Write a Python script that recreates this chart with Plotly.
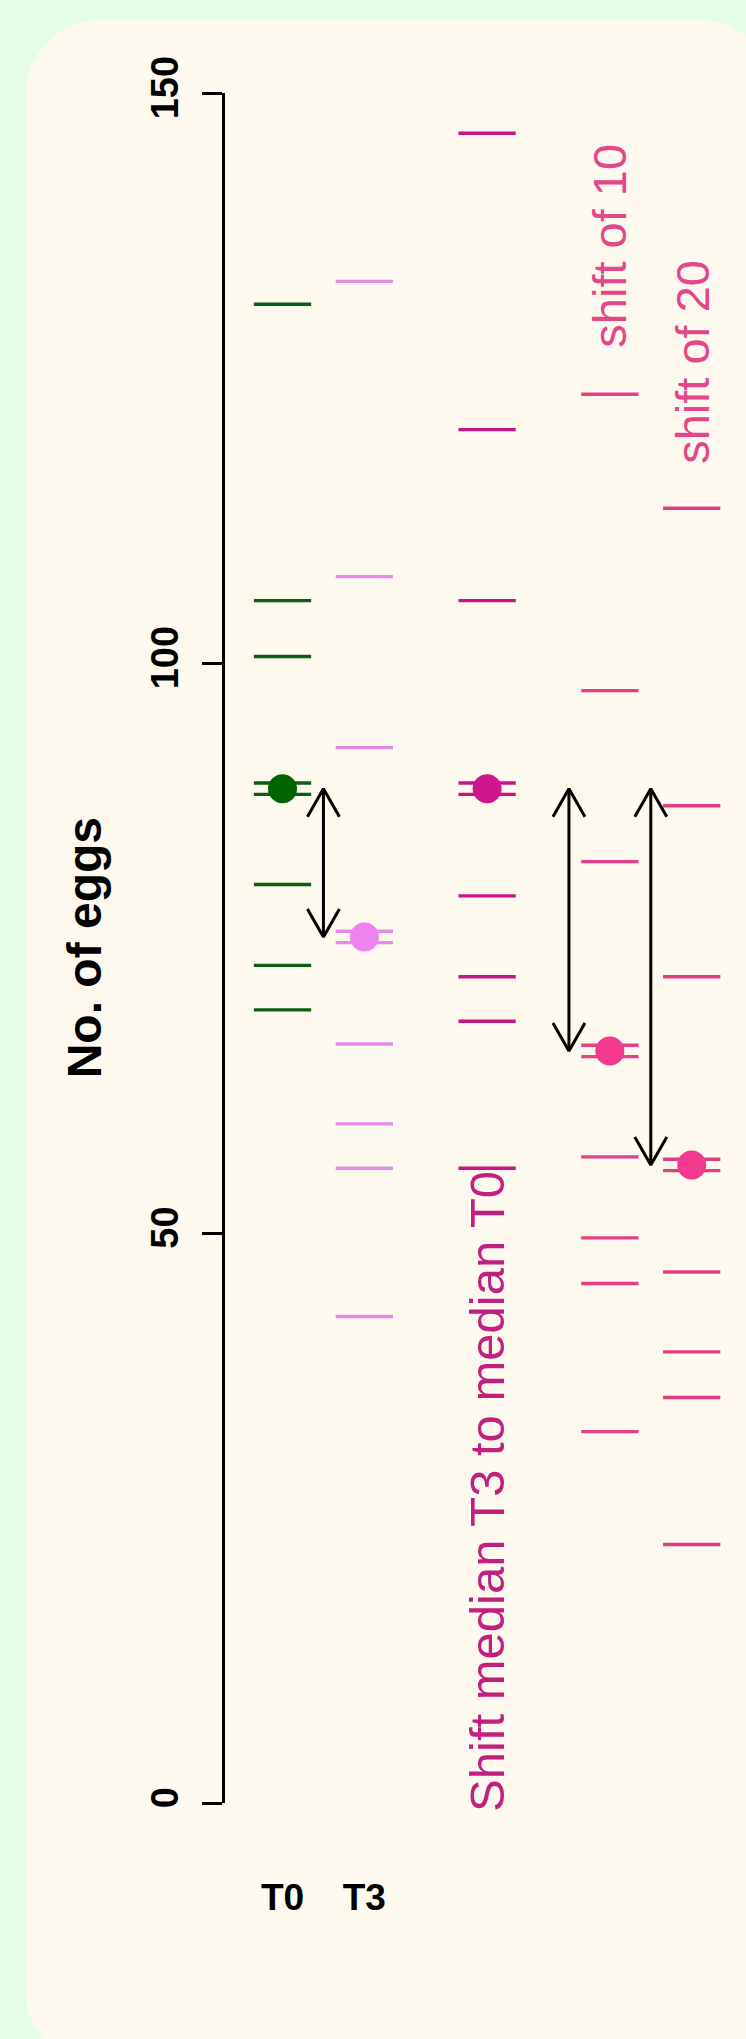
import plotly.graph_objects as go

# ---- data: number of eggs per observation -------------------------------
group_labels = ["T0", "T3"]
t0_eggs = [131.5, 105.5, 100.6, 89, 89, 80.6, 73.5, 69.6]
t3_eggs = [133.5, 107.6, 92.6, 76, 76, 66.6, 59.6, 55.7, 42.7]
t3_to_t0_median = [146.5, 120.5, 105.5, 89, 89, 79.6, 72.5, 68.6, 55.7]
t3_shift_10 = [123.6, 97.6, 82.6, 66, 66, 56.7, 49.6, 45.6, 32.6]
t3_shift_20 = [113.6, 87.5, 72.5, 56, 56, 46.6, 39.6, 35.6, 22.7]
y_ticks = [0, 50, 100, 150]

# ---- figure geometry -----------------------------------------------------
W, H = 746, 2039
X_RANGE = [-2.452, 6.6635]
Y_DOMAIN = [(H - 1803.3) / H, (H - 93.3) / H]
AXIS_X_PX = 223.3
PX_PER_X = W / (X_RANGE[1] - X_RANGE[0])
PX_PER_Y = H * (Y_DOMAIN[1] - Y_DOMAIN[0]) / 150.0

FONT = "Liberation Sans, Arial, Helvetica, sans-serif"
SEG_HALF = 0.35

columns = [
    # values, x position, segment colour, dot colour
    (t0_eggs, 1.0, "#0b5e12", "#006400"),
    (t3_eggs, 2.0, "#e58be5", "#ee82ee"),
    (t3_to_t0_median, 3.5, "#c71585", "#d0168c"),
    (t3_shift_10, 5.0, "#e63f86", "#f23a90"),
    (t3_shift_20, 6.0, "#e03d82", "#f23a90"),
]


def median(vals):
    s = sorted(vals)
    n = len(s)
    return s[n // 2] if n % 2 else 0.5 * (s[n // 2 - 1] + s[n // 2])


def tick_levels(vals):
    """Repeated values are drawn as a pair of ticks just above/below the value."""
    counts = {}
    for v in vals:
        counts[v] = counts.get(v, 0) + 1
    seen = {}
    out = []
    for v in vals:
        if counts[v] > 1:
            k = seen.get(v, 0)
            seen[v] = k + 1
            out.append(v + 0.5 - k)
        else:
            out.append(v)
    return out


fig = go.Figure()

# one horizontal tick per observation
for vals, xc, seg_col, dot_col in columns:
    xs, ys = [], []
    for lv in tick_levels(vals):
        xs += [xc - SEG_HALF, xc + SEG_HALF, None]
        ys += [lv, lv, None]
    fig.add_trace(go.Scatter(x=xs, y=ys, mode="lines",
                             line=dict(color=seg_col, width=3.4),
                             hoverinfo="skip", showlegend=False))

# median of each group as a filled dot
for vals, xc, seg_col, dot_col in columns:
    fig.add_trace(go.Scatter(x=[xc], y=[median(vals)], mode="markers",
                             marker=dict(color=dot_col, size=29, line=dict(width=0)),
                             hoverinfo="skip", showlegend=False))

# double-headed arrows between medians
head_dx = 16 / PX_PER_X
head_dy = 28 / PX_PER_Y
arrow_specs = [
    (1.5, median(t0_eggs), median(t3_eggs)),
    (4.5, median(t3_to_t0_median), median(t3_shift_10)),
    (5.5, median(t3_to_t0_median), median(t3_shift_20)),
]
for xa, y_top, y_bot in arrow_specs:
    xs = [xa, xa, None,
          xa - head_dx, xa, xa + head_dx, None,
          xa - head_dx, xa, xa + head_dx]
    ys = [y_top, y_bot, None,
          y_top - head_dy, y_top, y_top - head_dy, None,
          y_bot + head_dy, y_bot, y_bot + head_dy]
    fig.add_trace(go.Scatter(x=xs, y=ys, mode="lines",
                             line=dict(color="black", width=3),
                             hoverinfo="skip", showlegend=False))

# rounded cream panel behind the plot
def px(x):
    return x / W


def py(y):
    return 1 - y / H


L, T, R_, B, RAD = 26, 20, 775, 2067, 75
k = 0.5523 * RAD
panel = (
    f"M{px(L + RAD)},{py(T)} L{px(R_ - RAD)},{py(T)} "
    f"C{px(R_ - RAD + k)},{py(T)} {px(R_)},{py(T + RAD - k)} {px(R_)},{py(T + RAD)} "
    f"L{px(R_)},{py(B - RAD)} "
    f"C{px(R_)},{py(B - RAD + k)} {px(R_ - RAD + k)},{py(B)} {px(R_ - RAD)},{py(B)} "
    f"L{px(L + RAD)},{py(B)} "
    f"C{px(L + RAD - k)},{py(B)} {px(L)},{py(B - RAD + k)} {px(L)},{py(B - RAD)} "
    f"L{px(L)},{py(T + RAD)} "
    f"C{px(L)},{py(T + RAD - k)} {px(L + RAD - k)},{py(T)} {px(L + RAD)},{py(T)} Z"
)
fig.add_shape(type="path", path=panel, xref="paper", yref="paper",
              fillcolor="#fdf9ee", line=dict(width=0), layer="below")

# annotations
fig.add_annotation(text="No. of eggs", xref="paper", yref="paper",
                   x=px(84), y=py(948.3), textangle=-90, showarrow=False,
                   xanchor="center", yanchor="middle",
                   font=dict(family=FONT, size=48, color="black", weight="bold"))
fig.add_annotation(text="Shift median T3 to median T0", x=3.5, y=0, yshift=-11,
                   textangle=-90, showarrow=False, xanchor="center", yanchor="bottom",
                   font=dict(family=FONT, size=49, color="#c2207f"))
fig.add_annotation(text="shift of 10", x=5, y=127.5,
                   textangle=-90, showarrow=False, xanchor="center", yanchor="bottom",
                   font=dict(family=FONT, size=47, color="#e4468a"))
fig.add_annotation(text="shift of 20", x=6, y=117.3,
                   textangle=-90, showarrow=False, xanchor="center", yanchor="bottom",
                   font=dict(family=FONT, size=47, color="#e4468a"))

fig.update_layout(
    width=W, height=H,
    margin=dict(l=0, r=0, t=0, b=0, pad=0, autoexpand=False),
    paper_bgcolor="#e4fde4",
    plot_bgcolor="rgba(0,0,0,0)",
    showlegend=False,
    xaxis=dict(domain=[0, 1], range=X_RANGE, tickvals=[1, 2], ticktext=group_labels,
               ticks="", showline=False, showgrid=False, zeroline=False,
               anchor="free", position=(H - 1872) / H, automargin=False,
               tickfont=dict(family=FONT, size=37, color="black", weight="bold"),
               fixedrange=True),
    yaxis=dict(domain=Y_DOMAIN, range=[0, 150], tickvals=y_ticks,
               ticks="outside", ticklen=20, tickwidth=2.7, tickcolor="black",
               showline=True, linewidth=2.7, linecolor="black",
               showgrid=False, zeroline=False, automargin=False,
               anchor="free", position=AXIS_X_PX / W, tickangle=-90,
               ticklabelstandoff=9,
               tickfont=dict(family=FONT, size=38, color="black", weight="bold"),
               fixedrange=True),
)

fig.write_html("out.html", config={"displayModeBar": False})
